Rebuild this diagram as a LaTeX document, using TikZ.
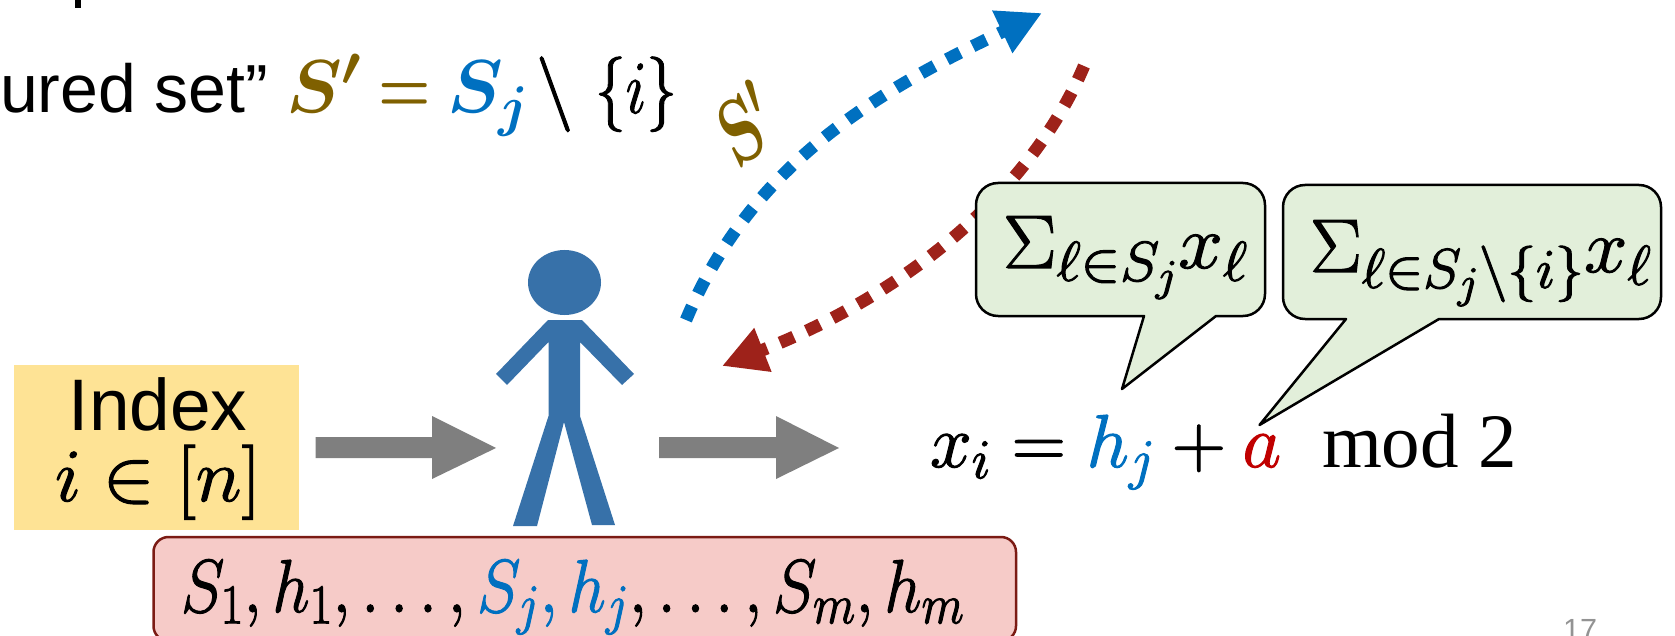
\RequirePackage{fix-cm}
\documentclass[tikz,border=0pt]{standalone}
\usepackage{amsmath}
\usepackage{graphicx}
\usepackage{fontspec}
\setmainfont{Liberation Sans}
\newfontfamily\serifA{Liberation Serif}
\usetikzlibrary{arrows.meta}
\definecolor{blueA}{HTML}{0070C0}
\definecolor{redA}{HTML}{9E221A}
\definecolor{goldA}{HTML}{7F6000}
\definecolor{personC}{HTML}{3771A9}
\definecolor{grayA}{HTML}{7F7F7F}
\definecolor{yellowA}{HTML}{FEE395}
\definecolor{pinkA}{HTML}{F6CBC8}
\definecolor{pinkB}{HTML}{7B1B14}
\definecolor{greenA}{HTML}{E2EFDA}
\definecolor{redB}{HTML}{C00000}
\DeclareMathSizes{75}{75}{56}{44}
\DeclareMathSizes{76}{76}{56}{44}
\DeclareMathSizes{88}{88}{62}{44}
\newcommand{\fs}[1]{\fontsize{#1pt}{#1pt}\selectfont}
\newcommand{\sx}[2]{\scalebox{#1}[1]{\special{pdf:code 2 Tr 1.1 w}#2\special{pdf:code 0 Tr}}}
\tikzset{
  x=1pt,y=-1pt,
  lbl/.style={inner sep=0,outer sep=0,anchor=base west},
  lblc/.style={inner sep=0,outer sep=0,anchor=base},
  bigarrow/.style={fill=grayA,draw=none},
  dots/.style={line width=12.5pt,dash pattern=on 15pt off 14pt},
  bubble/.style={fill=greenA,draw=black,line width=2.5pt,line join=round},
}
\begin{document}
\begin{tikzpicture}
\useasboundingbox (0,0) rectangle (1675,636);
\clip (0,0) rectangle (1675,636);
% descender stub of the cut-off line above
\fill[black] (74.5,0) rectangle (81,8);
% heading
\node[lbl,font=\fs{68}] (head) at (0,113) {ured set”};
\node[lbl,text=goldA,font=\fs{75}] (sp) at (286,113) {$\boldsymbol{S'}$};
\node[lbl,text=goldA,font=\fs{75}] (eq) at (378,113) {\scalebox{0.8}[1]{$\boldsymbol{=}$}};
\node[lbl,text=blueA,font=\fs{75}] (sj) at (447,113) {$\boldsymbol{S_j}$};
\node[lbl,font=\fs{75}] (bs) at (536,113) {\sx{1}{$\setminus$}};
\node[lbl,font=\fs{75}] (set) at (595,113) {\sx{0.82}{$\{i\}$}};
% curves
\coordinate (bs0) at (686,320);
\coordinate (be) at (1042,13);
\coordinate (rs) at (1084,66);
\coordinate (re) at (722,366);
\draw[dots,draw=blueA,-{Triangle[length=44pt,width=44pt,fill=blueA]}] (bs0) .. controls (752,162) and (880,90) .. (be);
\draw[dots,draw=redA,-{Triangle[length=44pt,width=44pt,fill=redA]}] (rs) .. controls (1040,170) and (935,282) .. (re);
\node[inner sep=0,text=goldA,font=\fs{88},rotate=35] (sl) at (744,124) {\scalebox{0.72}[1]{$\boldsymbol{S'}$}};
% bubbles
\draw[bubble] (998,183) -- (1243,183) arc[start angle=-90,end angle=0,radius=22] -- (1265,294) arc[start angle=0,end angle=90,radius=22] -- (1216,316) -- (1122,389) -- (1144,316) -- (998,316) arc[start angle=90,end angle=180,radius=22] -- (976,205) arc[start angle=180,end angle=270,radius=22] -- cycle;
\draw[bubble] (1305,185) -- (1639,185) arc[start angle=-90,end angle=0,radius=22] -- (1661,297) arc[start angle=0,end angle=90,radius=22] -- (1439,319) -- (1259.5,425) -- (1346,319) -- (1305,319) arc[start angle=90,end angle=180,radius=22] -- (1283,207) arc[start angle=180,end angle=270,radius=22] -- cycle;
\node[lbl,font=\fs{76}] (b1) at (1003,268) {\sx{1.055}{$\Sigma_{\ell\in S_j}x_\ell$}};
\node[lbl,font=\fs{76}] (b2) at (1310,272) {\sx{1.02}{$\Sigma_{\ell\in S_j\setminus\{i\}}x_\ell$}};
% index
\node[fill=yellowA,minimum width=285pt,minimum height=165pt,inner sep=0,anchor=north west] (idx) at (14,365) {};
\node[lblc,font=\fs{73}] (idxa) at (158,430) {Index};
\node[lblc,font=\fs{75}] (idxb) at (158,501) {\sx{1.04}{$i\in[n]$}};
% gray arrows
\path[bigarrow] (315.5,437) -- (432,437) -- (432,416) -- (496,448) -- (432,479) -- (432,458) -- (315.5,458) -- cycle;
\path[bigarrow] (659,437) -- (776,437) -- (776,416) -- (839,448) -- (776,479) -- (776,458) -- (659,458) -- cycle;
% person
\fill[personC] (564.5,282.5) ellipse[x radius=36.5,y radius=32.5];
\fill[personC] (548,320) -- (582,320) -- (634,374) -- (622,385) -- (580,342) -- (580,416) -- (615,525) -- (592,525) -- (564,422) -- (537,526) -- (513,526) -- (548.5,416) -- (548.5,342) -- (507,385) -- (496,374) -- cycle;
% pink box
\draw[fill=pinkA,draw=pinkB,line width=2.5pt,rounded corners=15pt] (153.5,537) rectangle (1016,641);
\node[lbl,font=\fs{75}] (list) at (181,612) {\sx{0.878}{$S_1,h_1,\ldots,\textcolor{blueA}{S_j,h_j},\ldots,S_m,h_m$}};
% equation
\node[lbl,font=\fs{75}] (eqn) at (930,467) {\sx{1.0}{$x_i=\textcolor{blueA}{h_j}+\textcolor{redB}{a}$}};
\node[lbl,font=\fs{77}\serifA] (mod) at (1322,467) {mod 2};
% page number
\node[lbl,text=gray!85!white,font=\fs{30.6}] (pg) at (1563,640) {17};
\end{tikzpicture}
\end{document}
